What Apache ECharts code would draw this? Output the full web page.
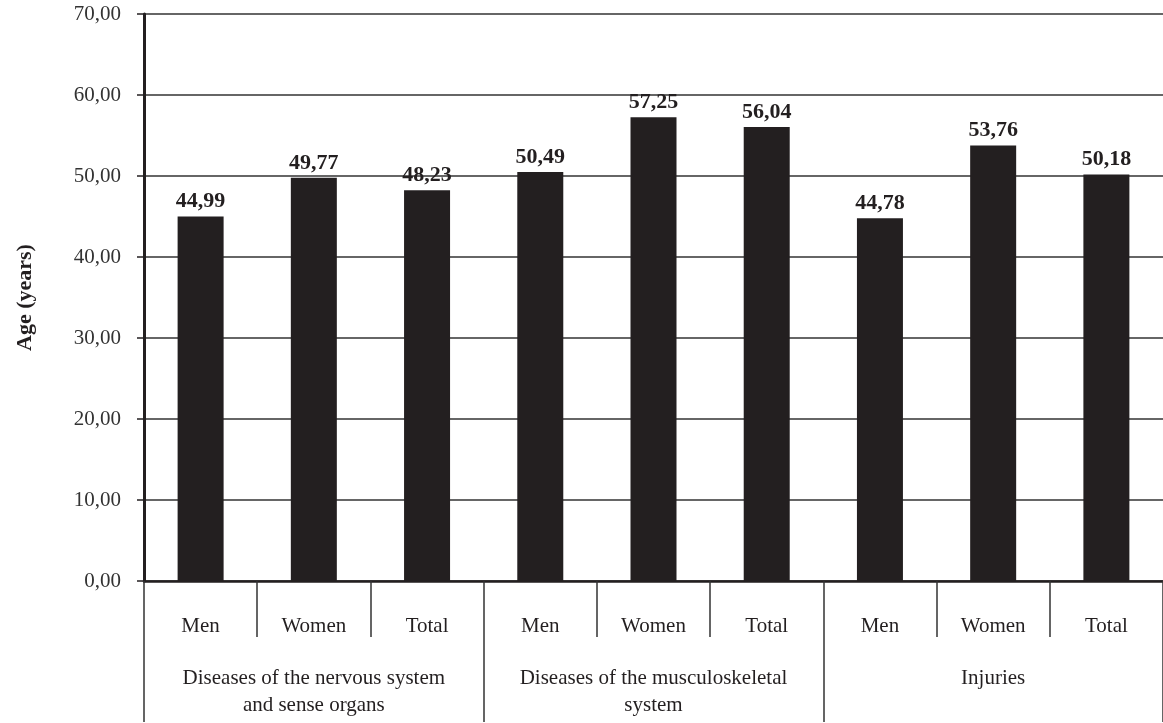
<!DOCTYPE html>
<html>
<head>
<meta charset="utf-8">
<script src="https://cdn.jsdelivr.net/npm/echarts@6/dist/echarts.min.js"></script>
<style>
html,body{margin:0;padding:0;background:#fff;}
#chart{width:1163px;height:723px;}
</style>
</head>
<body>
<div id="chart"></div>
<script>
var subCategories = ['Men', 'Women', 'Total', 'Men', 'Women', 'Total', 'Men', 'Women', 'Total'];
var groups = ['Diseases of the nervous system\nand sense organs', 'Diseases of the musculoskeletal\nsystem', 'Injuries'];
var ages = [44.99, 49.77, 48.23, 50.49, 57.25, 56.04, 44.78, 53.76, 50.18];
var yMin = 0, yMax = 70, yStep = 10;
var yTitle = 'Age (years)';

function fmt(v) { return v.toFixed(2).replace('.', ','); }

var FONT = '"Liberation Serif", "DejaVu Serif", serif';
var INK = '#231f20';

var chart = echarts.init(document.getElementById('chart'));
chart.setOption({
  animation: false,
  backgroundColor: '#ffffff',
  grid: { left: 144, right: -9, top: 14, bottom: 142, containLabel: false },
  xAxis: [
    {
      type: 'category',
      position: 'bottom',
      data: subCategories,
      axisLine: { show: true, lineStyle: { color: INK, width: 2.5 } },
      axisTick: { show: true, interval: 0, length: 56, lineStyle: { color: '#333', width: 1.5 } },
      axisLabel: { interval: 0, margin: 35, fontFamily: FONT, fontSize: 21, color: INK }
    },
    {
      type: 'category',
      position: 'bottom',
      data: groups,
      axisLine: { show: false },
      axisTick: { show: true, interval: 0, length: 141, lineStyle: { color: '#333', width: 1.5 } },
      axisLabel: { interval: 0, margin: 84, fontFamily: FONT, fontSize: 21, color: INK, lineHeight: 27, align: 'center' }
    }
  ],
  yAxis: {
    type: 'value',
    min: yMin, max: yMax, interval: yStep,
    name: yTitle,
    nameLocation: 'middle',
    nameGap: 108,
    nameRotate: 90,
    nameTextStyle: { fontFamily: FONT, fontSize: 22, fontWeight: 'bold', color: INK },
    axisLine: { show: true, lineStyle: { color: INK, width: 3 } },
    axisTick: { show: true, length: 7, lineStyle: { color: INK, width: 1.5 } },
    axisLabel: { margin: 23, fontFamily: FONT, fontSize: 21, color: '#333', formatter: function (v) { return fmt(v); } },
    splitLine: { show: true, lineStyle: { color: '#333', width: 1.5 } }
  },
  series: [{
    type: 'bar',
    xAxisIndex: 0,
    data: ages,
    barWidth: 46,
    itemStyle: { color: INK },
    label: {
      show: true, position: 'top', distance: 4,
      fontFamily: FONT, fontSize: 22, fontWeight: 'bold', color: INK,
      formatter: function (p) { return fmt(p.value); }
    }
  }]
});
</script>
</body>
</html>
